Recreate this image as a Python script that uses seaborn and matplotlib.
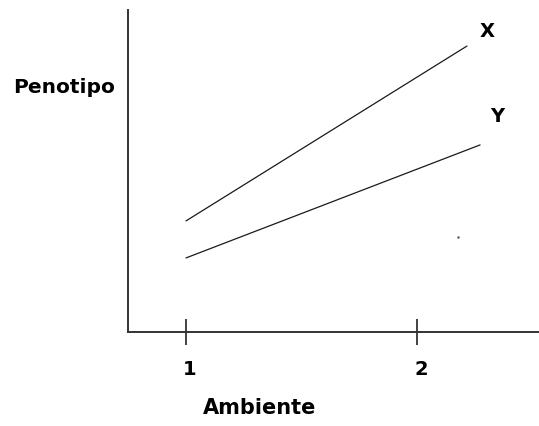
import matplotlib
matplotlib.use('Agg')
import matplotlib.pyplot as plt
import matplotlib.transforms as mtransforms
import seaborn as sns
import pandas as pd

# values
ambiente_ticks = [1, 2]
tick_labels = ['1', '2']
x_ambiente = [1.0, 2.216]
x_penotipo = [3.45, 8.88]
y_ambiente = [1.0, 2.273]
y_penotipo = [2.30, 5.81]
series_names = ['X', 'Y']
label_pos_x = [2.303, 2.346]
label_pos_y = [9.32, 6.68]
stray_dot = (2.177, 2.95)

df = pd.DataFrame({
    'Ambiente': x_ambiente + y_ambiente,
    'Penotipo': x_penotipo + y_penotipo,
    'serie': ['X'] * len(x_ambiente) + ['Y'] * len(y_ambiente),
})

sns.set_style('white')
plt.rcParams['font.family'] = ['DejaVu Sans']
plt.rcParams['text.color'] = 'black'

fig = plt.figure(figsize=(5.39, 4.26), dpi=100)
ax = fig.add_axes([128 / 539, 94 / 426, 411 / 539, 322 / 426])

sns.lineplot(data=df, x='Ambiente', y='Penotipo', hue='serie',
             palette=['#1a1a1a', '#1a1a1a'], linewidth=0.9, legend=False, ax=ax)

for name, lx, ly in zip(series_names, label_pos_x, label_pos_y):
    ax.text(lx, ly, name, fontsize=14, fontweight='bold', ha='center', va='center', color='black')

ax.plot([stray_dot[0]], [stray_dot[1]], marker='.', markersize=1.5, color='#555555')

ax.set_xlim(0.749, 2.528)
ax.set_ylim(0, 10)
sns.despine(ax=ax)
for side in ['left', 'bottom']:
    ax.spines[side].set_color('#333333')
    ax.spines[side].set_linewidth(1.4)

ax.set_yticks([])
ax.set_xticks(ambiente_ticks)
ax.set_xticklabels(tick_labels, fontsize=14, fontweight='bold', color='black')
ax.tick_params(axis='x', bottom=True, direction='inout', length=19, width=1.2,
               color='#222222', pad=11)
offset = mtransforms.ScaledTranslation(4 / 100, 0, fig.dpi_scale_trans)
for lbl in ax.get_xticklabels():
    lbl.set_transform(lbl.get_transform() + offset)

ax.set_xlabel('Ambiente', fontsize=15, fontweight='bold', va='center', color='black')
ax.xaxis.set_label_coords(0.321, -0.236)
ax.set_ylabel('Penotipo', fontsize=14.5, fontweight='bold', rotation=0,
              ha='center', va='center', color='black')
ax.yaxis.set_label_coords(-0.156, 0.758)

fig.savefig('out.png', dpi=100)
